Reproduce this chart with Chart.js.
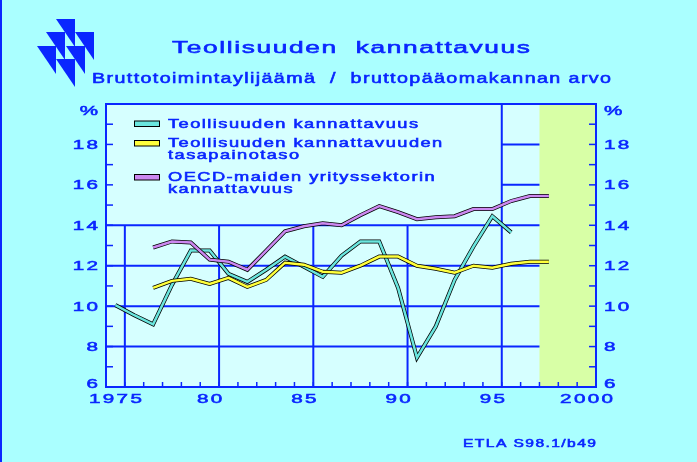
<!DOCTYPE html>
<html>
<head>
<meta charset="utf-8">
<title>Teollisuuden kannattavuus</title>
<script src="https://cdn.jsdelivr.net/npm/chart.js@4.4.1/dist/chart.umd.min.js"></script>
<style>
  html, body { margin: 0; padding: 0; background: #aaffff; overflow: hidden; }
  canvas { display: block; }
</style>
</head>
<body>
<canvas id="profit-chart" width="697" height="462"></canvas>
<script>
// values, one per year 1975..1998 (null = no value)
const years = [1975, 1976, 1977, 1978, 1979, 1980, 1981, 1982, 1983, 1984, 1985, 1986,
  1987, 1988, 1989, 1990, 1991, 1992, 1993, 1994, 1995, 1996, 1997, 1998]
const profitability = [10.05, 9.55, 9.1, 11.05, 12.75, 12.75, 11.6, 11.2, 11.8, 12.45, 11.95, 11.45,
  12.5, 13.2, 13.2, 10.9, 7.45, 9.0, 11.3, 12.95, 14.45, 13.65, null, null]
const equilibrium = [null, null, 10.9, 11.25, 11.35, 11.1, 11.4, 10.95, 11.3, 12.15, 12.05, 11.7,
  11.65, 12.0, 12.45, 12.45, 12.0, 11.85, 11.65, 12.0, 11.9, 12.1, 12.2, 12.2]
const oecd = [null, null, 12.9, 13.2, 13.15, 12.3, 12.2, 11.8, 12.75, 13.7, 13.95, 14.1,
  14.0, 14.5, 14.95, 14.65, 14.3, 14.4, 14.45, 14.8, 14.8, 15.2, 15.45, 15.45]

const seriesNames = [
  ['Teollisuuden kannattavuus'],
  ['Teollisuuden kannattavuuden', 'tasapainotaso'],
  ['OECD-maiden yrityssektorin', 'kannattavuus']
]
const xTickValues = [1975, 1980, 1985, 1990, 1995, 2000]
const xTickLabels = ['1975', '80', '85', '90', '95', '2000']
const yTickValues = [6, 8, 10, 12, 14, 16, 18, 20]
const yTickLabels = ['6', '8', '10', '12', '14', '16', '18', '%']
const forecastStart = 1997.5

const BLUE = '#0a26ff'
const PAGE_BG = '#aaffff'
const PLOT_BG = '#d6ffff'
const SHADE = '#d8ffa6'
const COLORS = ['#6ae6de', '#ffff3c', '#cc88f0']
const FONT = '"Liberation Sans", Arial, sans-serif'

function textStyle (ctx, size, ls, sample, width) {
  ctx.save()
  ctx.font = `${size}px ${FONT}`
  ctx.letterSpacing = `${ls}px`
  const w = ctx.measureText(sample).width - ls
  ctx.restore()
  return { size, ls, sx: width / w }
}

function drawText (ctx, text, x, y, st, align = 'left') {
  ctx.save()
  ctx.font = `${st.size}px ${FONT}`
  ctx.letterSpacing = `${st.ls}px`
  const w = (ctx.measureText(text).width - st.ls) * st.sx
  const left = align === 'center' ? x - w / 2 : align === 'right' ? x - w : x
  ctx.translate(left, y)
  ctx.scale(st.sx, 1)
  ctx.fillStyle = BLUE
  ctx.strokeStyle = BLUE
  ctx.lineWidth = 0.55
  ctx.textAlign = 'left'
  ctx.textBaseline = 'alphabetic'
  ctx.fillText(text, 0, 0)
  ctx.strokeText(text, 0, 0)
  ctx.restore()
}

function line (ctx, x1, y1, x2, y2) {
  ctx.beginPath()
  ctx.moveTo(x1, y1)
  ctx.lineTo(x2, y2)
  ctx.stroke()
}

function toPoints (values) {
  return years.map((yr, i) => ({ x: yr, y: values[i] })).filter(p => p.y !== null)
}

const seriesValues = [profitability, equilibrium, oecd]
const datasets = []
seriesValues.forEach((values, i) => {
  const order = (seriesValues.length - i) * 2
  datasets.push({ data: toPoints(values), borderColor: '#000000', borderWidth: 4, order: order })
  datasets.push({ data: toPoints(values), borderColor: COLORS[i], borderWidth: 2.5, order: order - 1 })
})

const backdrop = {
  id: 'backdrop',
  beforeDraw (chart) {
    const { ctx, chartArea: a, scales: { x, y } } = chart
    ctx.save()
    ctx.fillStyle = PAGE_BG
    ctx.fillRect(0, 0, chart.width, chart.height)
    ctx.fillStyle = BLUE
    ctx.fillRect(0, 0, 2, chart.height)

    // ETLA logo
    const tris = [[56, 19], [46, 32], [75, 32], [37, 46], [66, 46], [56, 59]]
    tris.forEach(([tx, ty]) => {
      ctx.beginPath()
      ctx.moveTo(tx, ty)
      ctx.lineTo(tx + 19, ty)
      ctx.lineTo(tx + 19, ty + 28)
      ctx.closePath()
      ctx.fill()
    })

    ctx.fillStyle = PLOT_BG
    ctx.fillRect(a.left, a.top, a.width, a.height)

    // grid, kept clear of the legend block
    ctx.strokeStyle = BLUE
    ctx.lineWidth = 2
    const y14 = y.getPixelForValue(14)
    const split = x.getPixelForValue(1995.5)
    for (let v = 1975.5; v < 2000; v += 5) {
      const px = x.getPixelForValue(v)
      line(ctx, px, v === 1995.5 ? a.top : y14, px, a.bottom)
    }
    for (let v = 8; v < 20; v += 2) {
      const py = y.getPixelForValue(v)
      line(ctx, v > 14 ? split : a.left, py, a.right, py)
    }

    const sx = x.getPixelForValue(forecastStart)
    ctx.fillStyle = SHADE
    ctx.fillRect(sx, a.top, a.right - sx, a.height)

    // inward tick marks
    ctx.lineWidth = 1.5
    for (let v = 1974.5; v <= 2000.5; v += 1) {
      const px = x.getPixelForValue(v)
      line(ctx, px, a.bottom, px, a.bottom - 5)
    }
    for (let v = 6; v <= 20; v += 1) {
      const py = y.getPixelForValue(v)
      line(ctx, a.left, py, a.left + 7, py)
      line(ctx, a.right, py, a.right - 7, py)
    }

    ctx.lineWidth = 2
    ctx.strokeRect(a.left, a.top, a.width, a.height)
    ctx.restore()
  },
  afterDraw (chart) {
    const { ctx, chartArea: a, scales: { x, y } } = chart
    const title = textStyle(ctx, 16, 1, 'Teollisuuden  kannattavuus', 358)
    const sub = textStyle(ctx, 14, 1, 'Bruttotoimintaylijäämä  /  bruttopääomakannan arvo', 519)
    const leg = textStyle(ctx, 12.5, 1, 'Teollisuuden kannattavuus', 250)
    const tick = textStyle(ctx, 13, 1.5, '2000', 53)
    const note = textStyle(ctx, 11, 1, 'ETLA S98.1/b49', 133)

    drawText(ctx, 'Teollisuuden  kannattavuus', 172, 53, title)
    drawText(ctx, 'Bruttotoimintaylijäämä  /  bruttopääomakannan arvo', 92, 83, sub)

    // legend
    const boxTops = [a.top + 17, a.top + 36.5, a.top + 70.5]
    seriesNames.forEach((names, i) => {
      ctx.save()
      ctx.fillStyle = COLORS[i]
      ctx.strokeStyle = '#000000'
      ctx.lineWidth = 1
      ctx.fillRect(a.left + 28.5, boxTops[i], 25, 5.5)
      ctx.strokeRect(a.left + 28.5, boxTops[i], 25, 5.5)
      ctx.restore()
      names.forEach((t, j) => drawText(ctx, t, a.left + 62, boxTops[i] + 6.5 + j * 12, leg))
    })

    // tick labels
    xTickValues.forEach((v, i) => {
      drawText(ctx, xTickLabels[i], x.getPixelForValue(v), a.bottom + 16, tick, 'center')
    })
    yTickValues.forEach((v, i) => {
      let py = y.getPixelForValue(v) + 4.6
      if (i === 0) py -= 3.5
      if (i === yTickValues.length - 1) py += 6
      drawText(ctx, yTickLabels[i], a.left - 8, py, tick, 'right')
      drawText(ctx, yTickLabels[i], a.right + 8, py, tick, 'left')
    })

    drawText(ctx, 'ETLA S98.1/b49', 463, 447, note)
  }
}

new Chart(document.getElementById('profit-chart').getContext('2d'), {
  type: 'line',
  data: { datasets: datasets },
  options: {
    responsive: false,
    animation: false,
    events: [],
    layout: { padding: { top: 104, left: 0, right: 0, bottom: 0 } },
    elements: {
      point: { radius: 0 },
      line: { tension: 0, fill: false, borderJoinStyle: 'miter' }
    },
    plugins: {
      legend: { display: false },
      tooltip: { enabled: false }
    },
    scales: {
      x: {
        type: 'linear',
        min: 1974.5,
        max: 2000.5,
        grid: { display: false },
        border: { display: false },
        ticks: { display: false },
        afterFit: scale => { scale.height = 75 }
      },
      y: {
        position: 'left',
        min: 6,
        max: 20,
        grid: { display: false },
        border: { display: false },
        ticks: { display: false },
        afterFit: scale => { scale.width = 106 }
      },
      y2: {
        position: 'right',
        min: 6,
        max: 20,
        grid: { display: false },
        border: { display: false },
        ticks: { display: false },
        afterFit: scale => { scale.width = 101 }
      }
    }
  },
  plugins: [backdrop]
})
</script>
</body>
</html>
